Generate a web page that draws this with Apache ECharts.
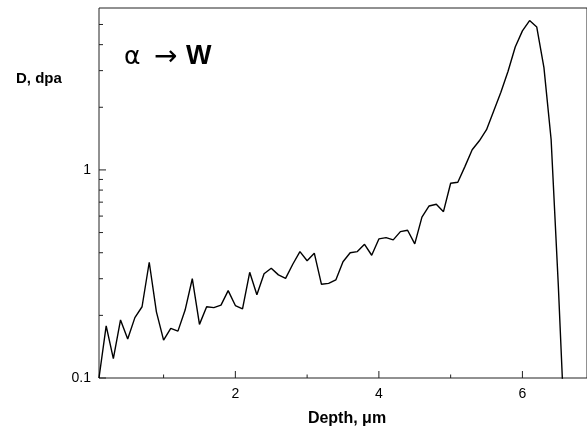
<!DOCTYPE html>
<html>
<head>
<meta charset="utf-8">
<script src="https://cdn.jsdelivr.net/npm/echarts@6/dist/echarts.min.js"></script>
<style>html,body{margin:0;padding:0;background:#fff}#c{width:587px;height:430px}</style>
</head>
<body>
<div id="c"></div>
<script>
const depth = [0.1,0.2,0.3,0.4,0.5,0.6,0.7,0.8,0.9,1.0,1.1,1.2,1.3,1.4,1.5,1.6,1.7,1.8,1.9,2.0,
  2.1,2.2,2.3,2.4,2.5,2.6,2.7,2.8,2.9,3.0,3.1,3.2,3.3,3.4,3.5,3.6,3.7,3.8,3.9,4.0,
  4.1,4.2,4.3,4.4,4.5,4.6,4.7,4.8,4.9,5.0,5.1,5.2,5.3,5.4,5.5,5.6,5.7,5.8,5.9,6.0,
  6.1,6.2,6.3,6.4,6.5,6.6];
const dose = [0.100,0.178,0.124,0.190,0.154,0.195,0.220,0.360,0.208,0.152,
  0.173,0.168,0.212,0.300,0.181,0.220,0.218,0.224,0.263,0.223,
  0.215,0.322,0.251,0.317,0.337,0.313,0.301,0.352,0.405,0.366,
  0.398,0.282,0.285,0.296,0.362,0.400,0.405,0.439,0.389,0.466,
  0.473,0.461,0.505,0.513,0.441,0.593,0.671,0.684,0.630,0.863,
  0.873,1.04,1.25,1.38,1.56,1.92,2.36,2.98,3.90,4.66,
  5.22,4.86,3.10,1.40,0.28,0.045];
const xLabelValues = [2, 4, 6];
const xMajorTicks = [2, 4, 6];
const xMinorTicks = [1, 3, 5];
const yMajorTicks = [0.1, 1];
const yMinorTicks = [0.2,0.3,0.4,0.5,0.6,0.7,0.8,0.9,2,3,4,5];
const yLabels = ['0.1', '1'];

const X_MIN = 0.1, Y_MIN = 0.1;
const FONT = "'Liberation Sans', Arial, sans-serif";

const tickData = [];
xMajorTicks.forEach(v => tickData.push([v, Y_MIN, 0]));
xMinorTicks.forEach(v => tickData.push([v, Y_MIN, 1]));
yMajorTicks.forEach(v => tickData.push([X_MIN, v, 2]));
yMinorTicks.forEach(v => tickData.push([X_MIN, v, 3]));

const chart = echarts.init(document.getElementById('c'), null, {renderer: 'canvas'});
chart.setOption({
  animation: false,
  backgroundColor: '#fff',
  grid: {left: 99, right: -2, top: 8, bottom: 52, show: true, borderColor: '#222', borderWidth: 1, backgroundColor: 'transparent'},
  xAxis: {
    type: 'value', min: 0.1, max: 6.9,
    axisLine: {show: false}, axisTick: {show: false}, splitLine: {show: false},
    axisLabel: {customValues: xLabelValues, color: '#000', fontSize: 14, fontFamily: FONT, margin: 9,
      formatter: v => String(Math.round(v))}
  },
  yAxis: {
    type: 'log', logBase: 10, min: 0.1, max: 6,
    axisLine: {show: false}, axisTick: {show: false}, splitLine: {show: false},
    axisLabel: {color: '#000', fontSize: 14, fontFamily: FONT, margin: 8, showMaxLabel: false,
      formatter: v => {
        if (Math.abs(v - 0.1) < 1e-6) return yLabels[0];
        if (Math.abs(v - 1) < 1e-6) return yLabels[1];
        return '';
      }}
  },
  series: [
    {
      type: 'line', data: depth.map((d, i) => [d, dose[i]]),
      showSymbol: false, symbol: 'none', clip: true,
      lineStyle: {color: '#000', width: 1.4}
    },
    {
      type: 'custom', data: tickData, clip: false, silent: true,
      renderItem: (params, api) => {
        const p = api.coord([api.value(0), api.value(1)]);
        const k = api.value(2);
        let x2 = p[0], y2 = p[1];
        if (k === 0) y2 -= 7;
        else if (k === 1) y2 -= 3.5;
        else if (k === 2) x2 += 7;
        else x2 += 4;
        return {type: 'line', shape: {x1: p[0], y1: p[1], x2: x2, y2: y2},
          style: {stroke: '#222', lineWidth: 1}};
      }
    }
  ],
  graphic: [
    {type: 'text', x: 16, y: 79, style: {text: 'D, dpa', font: 'bold 15px ' + FONT, fill: '#000', textVerticalAlign: 'middle'}},
    {type: 'text', x: 124, y: 57, style: {text: 'α', font: "25px 'DejaVu Sans', sans-serif", fill: '#000', textVerticalAlign: 'middle'}},
    {type: 'text', x: 154, y: 58, style: {text: '→', font: "28px 'DejaVu Sans', sans-serif", fill: '#000', textVerticalAlign: 'middle'}},
    {type: 'text', x: 186, y: 57, style: {text: 'W', font: 'bold 27px ' + FONT, fill: '#000', textVerticalAlign: 'middle'}},
    {type: 'text', x: 347, y: 419, style: {text: 'Depth, μm', font: 'bold 16px ' + FONT, fill: '#000', textAlign: 'center', textVerticalAlign: 'middle'}}
  ]
});
</script>
</body>
</html>
